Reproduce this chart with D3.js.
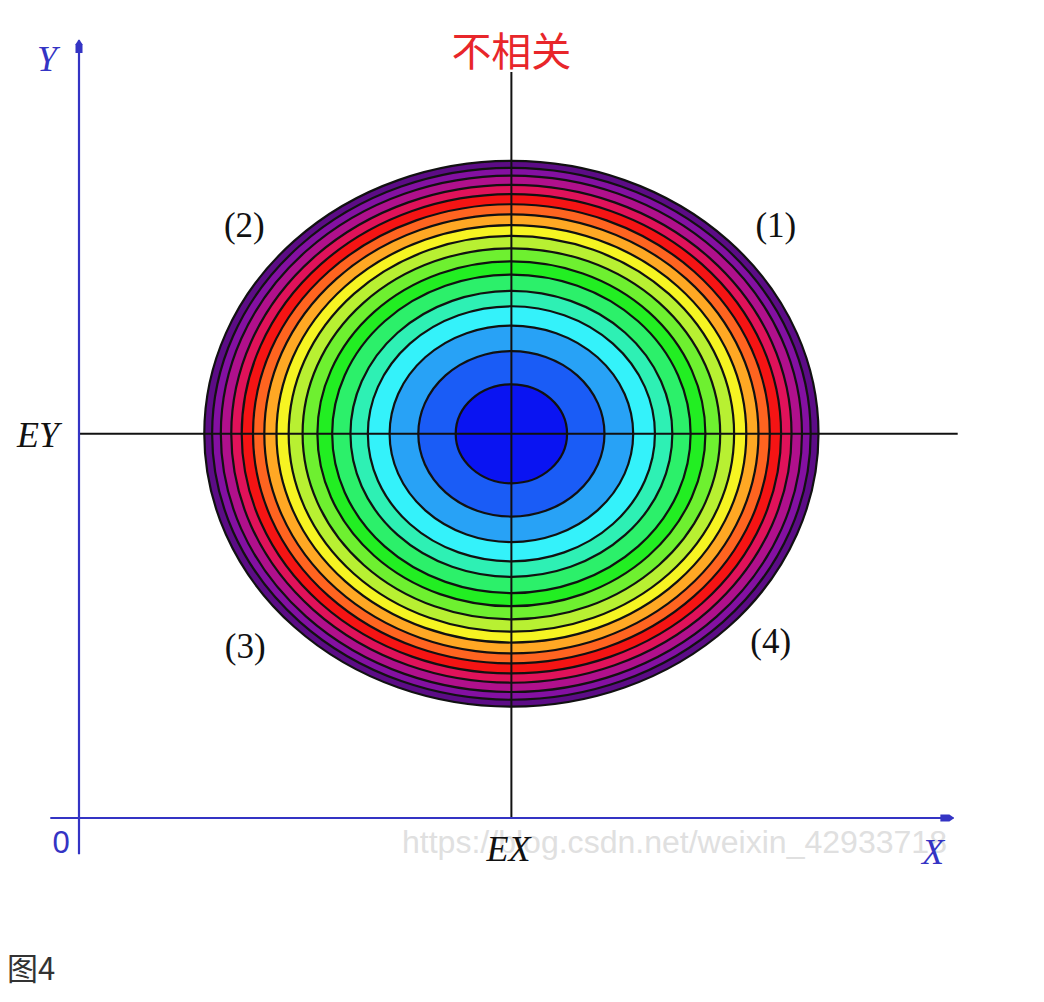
<!DOCTYPE html>
<html><head><meta charset="utf-8">
<script src="https://cdn.jsdelivr.net/npm/d3@7"></script>
<style>body{margin:0;background:#fff}svg{display:block}</style>
</head><body>
<svg id="c" width="1044" height="1002"></svg>
<script>
// ---- data ----
const title = "不相关";
const figLabel = "图4";
const meanX = 4.97, meanY = 4.97;   // EX, EY
// contour radii (outer → inner), in axis units
const levelRadii = [3.53, 3.44, 3.34, 3.22, 3.10, 2.97, 2.84, 2.70, 2.56, 2.40, 2.23, 2.06, 1.85, 1.65, 1.40, 1.07, 0.64];
const levelColors = ["#5c0c86","#8410a2","#b0108c","#e0125a","#f51414","#ff6420","#ffa824","#f6f422","#b8f032","#6ef030","#22ee22","#2cf06a","#2ef0b4","#34f2fa","#28a2f6","#1a5cf6","#0a14f2"];
const quadrantLabels = ["(1)","(2)","(3)","(4)"];
const quadrantPos = [[8.01,7.52],[1.90,7.52],[1.91,2.07],[7.95,2.13]];
const watermark = "https://blog.csdn.net/weixin_42933718";

// ---- scales ----
const svg = d3.select("#c");
const x = d3.scaleLinear().domain([0,10]).range([79,949]);
const y = d3.scaleLinear().domain([0,10]).range([818,45]);
const axisBlue = "#3434c4";

// watermark
svg.append("text").attr("x",402).attr("y",853).attr("font-family","Liberation Sans, Arial, sans-serif")
  .attr("font-size",31).attr("fill","#e0e0e0").attr("textLength",545).attr("lengthAdjust","spacingAndGlyphs").text(watermark);

// contour ellipses
svg.append("g").selectAll("ellipse").data(levelRadii).join("ellipse")
  .attr("cx",x(meanX)).attr("cy",y(meanY))
  .attr("rx",d=>x(d)-x(0)).attr("ry",d=>y(0)-y(d))
  .attr("fill",(d,i)=>levelColors[i]).attr("stroke","#111").attr("stroke-width",2.2);

// cross lines at EX, EY
svg.append("line").attr("x1",x(0)).attr("x2",x(10.1)).attr("y1",y(meanY)).attr("y2",y(meanY))
  .attr("stroke","#111").attr("stroke-width",2);
svg.append("line").attr("x1",x(meanX)).attr("x2",x(meanX)).attr("y1",y(9.65)).attr("y2",y(0))
  .attr("stroke","#111").attr("stroke-width",2);

// axes
const defs = svg.append("defs");
defs.append("marker").attr("id","arr").attr("viewBox","0 0 14 10").attr("refX",13).attr("refY",5)
  .attr("markerWidth",14).attr("markerHeight",10).attr("markerUnits","userSpaceOnUse").attr("orient","auto")
  .append("path").attr("d","M0,1.5 L9,1.5 L14,5 L9,8.5 L0,8.5 Z").attr("fill",axisBlue);
svg.append("line").attr("x1",x(-0.33)).attr("x2",x(10.05)).attr("y1",y(0)).attr("y2",y(0))
  .attr("stroke",axisBlue).attr("stroke-width",2.2).attr("marker-end","url(#arr)");
svg.append("line").attr("x1",x(0)).attr("x2",x(0)).attr("y1",y(-0.47)).attr("y2",y(10.06))
  .attr("stroke",axisBlue).attr("stroke-width",2.2).attr("marker-end","url(#arr)");

const serif = "Liberation Serif, Times New Roman, serif";
svg.append("text").attr("x",47).attr("y",71).attr("text-anchor","middle").attr("font-family",serif)
  .attr("font-style","italic").attr("font-size",36).attr("fill",axisBlue).text("Y");
svg.append("text").attr("x",933).attr("y",864).attr("text-anchor","middle").attr("font-family",serif)
  .attr("font-style","italic").attr("font-size",36).attr("fill",axisBlue).text("X");
svg.append("text").attr("x",61).attr("y",853).attr("text-anchor","middle").attr("font-family","Liberation Sans, Arial, sans-serif")
  .attr("font-size",31).attr("fill",axisBlue).text("0");
svg.append("text").attr("x",38).attr("y",447).attr("text-anchor","middle").attr("font-family",serif)
  .attr("font-style","italic").attr("font-size",36).attr("fill","#111").text("EY");
svg.append("text").attr("x",x(meanX)-3).attr("y",861).attr("text-anchor","middle").attr("font-family",serif)
  .attr("font-style","italic").attr("font-size",36).attr("fill","#111").text("EX");

// quadrant labels
svg.append("g").selectAll("text").data(quadrantLabels).join("text")
  .attr("x",(d,i)=>x(quadrantPos[i][0])).attr("y",(d,i)=>y(quadrantPos[i][1]))
  .attr("text-anchor","middle").attr("font-family",serif).attr("font-size",35).attr("fill","#111").text(d=>d);

// title
svg.append("text").attr("x",x(meanX)).attr("y",66).attr("text-anchor","middle")
  .attr("font-family","Noto Sans CJK SC, sans-serif").attr("font-size",40).attr("fill","#e8262a").text(title);
// figure label
svg.append("text").attr("x",7).attr("y",980).attr("font-family","Noto Sans CJK SC, sans-serif")
  .attr("font-size",31).attr("fill","#333").text(figLabel);
</script>
</body></html>
